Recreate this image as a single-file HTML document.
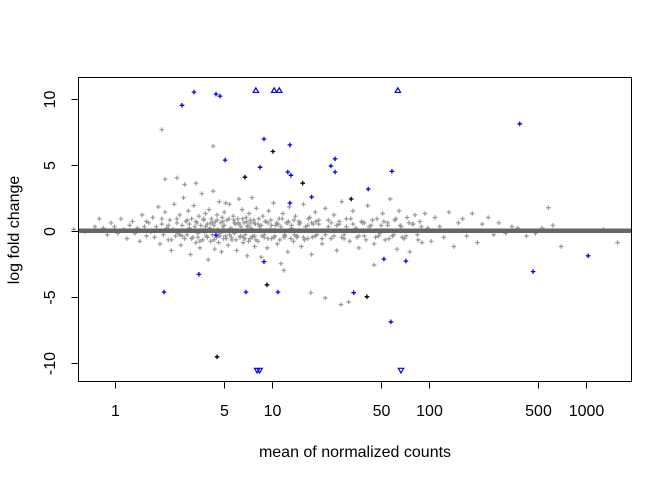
<!DOCTYPE html>
<html><head><meta charset="utf-8"><style>
html,body{margin:0;padding:0;background:#fff}
svg{display:block;font-family:"Liberation Sans",Arial,sans-serif}
</style></head><body>
<svg id="chart" width="672" height="480" viewBox="0 0 672 480">
<rect x="0" y="0" width="672" height="480" fill="#fff"/>
<g id="pts"></g>
<g id="axes"></g>
</svg>
<script>
// ---- data ----
const xTicks = [1,5,10,50,100,500,1000];
const xTickLabels = ["1","5","10","50","100","500","1000"];
const yTicks = [10,5,0,-5,-10];
const yTickLabels = ["10","5","0","-5","-10"];

const grayMean = [0.55,0.65,0.75,0.8,0.85,0.9,0.95,1.0,1.05,1.1,1.15,1.2,1.25,1.3,1.35,1.4,1.45,1.5,1.55,1.6,1.65,1.7,
1.75,1.8,1.85,1.9,1.95,2.0,2.05,2.1,2.15,2.2,2.25,2.3,2.35,2.4,2.45,2.5,2.55,2.6,2.65,2.7,2.75,2.8,2.85,2.9,2.95,3.0,3.05,3.1,3.15,3.2,3.25,3.3,3.35,3.4,3.45,3.5,3.55,3.6,3.65,3.7,3.75,3.8,3.85,3.9,3.95,4.0,4.05,4.1,4.15,4.2,4.25,4.3,4.35,4.4,4.45,4.5,4.55,4.6,4.65,4.7,4.75,4.8,4.85,4.9,4.95,
5.0,5.1,5.2,5.3,5.4,5.5,5.6,5.7,5.8,5.9,6.0,6.1,6.2,6.3,6.4,6.5,6.6,6.7,6.8,6.9,7.0,7.1,7.2,7.3,7.4,7.5,7.6,7.7,7.8,7.9,8.0,8.2,8.4,8.6,8.8,9.0,9.2,9.4,9.6,9.8,10,10.3,10.6,10.9,11.2,11.5,11.8,12.1,12.4,12.7,13,13.4,13.8,14.2,14.6,15,15.5,16,16.5,17,17.5,18,18.5,19,19.5,
20,21,22,23,24,25,26,27,28,29,30,31.5,33,34.5,36,37.5,39,41,43,45,47,49,51,53,55,57,59,61,63,65,67,70,73,76,79,82,85,88,91,95,99,
104,110,118,125,135,145,155,165,175,190,205,220,240,260,280,310,340,370,420,480,530,580,620,700,1300,1600,
2.2,2.6,3.0,3.4,3.8,4.2,4.6,5.0,5.4,5.8,6.2,6.6,7.0,7.4,7.8,8.2,8.6,9.0,9.5,10,10.5,11,11.5,12,12.7,13.4,14,15,16,17,18,19,20,22,24,26,28,30,33,36,39,42,46,50,55,60,66,72,80,90,
1.6,1.8,2.0,2.3,2.5,2.7,2.9,3.1,3.3,3.5,3.7,3.9,4.1,4.3,4.5,4.7,4.9,5.15,5.35,5.55,5.75,5.95,6.15,6.35,6.55,6.75,6.95,7.15,7.35,7.55,7.75,7.95,8.3,8.7,9.1,9.5,9.9,10.4,10.8,11.3,11.7,12.2,12.8,13.3,13.9,14.5,15.2,16.2,17.2,18.2,19.2,21,23,25,27,29,32,35,38,40,44,48,52,56,62,68,75,86,
2.0,4.25,2.1,2.5,2.8,3.3,27.7,22,17.8,31,5.1,45,12];
const grayLfc = [0.1,-0.1,0.3,0.9,0.2,-0.3,0.6,0.3,-0.2,0.9,0.1,-0.6,0.4,0.7,-0.2,0.2,-0.8,1.2,0.3,-0.4,0.6,-0.1,
1.0,-0.5,0.3,1.8,-1.0,0.5,-0.3,1.4,0.2,-0.7,0.8,-1.5,0.1,2.0,-0.4,0.9,-0.2,1.2,-1.1,0.4,2.5,-0.6,0.7,-0.3,1.5,0.2,-1.8,0.9,-0.5,1.9,0.3,-0.9,0.6,-0.2,1.1,-1.3,0.4,2.8,-0.7,0.8,-0.1,1.3,-0.4,0.5,-2.2,1.6,0.2,-0.8,0.9,-0.3,3.0,0.4,-1.4,0.7,-0.5,1.2,0.1,-0.9,2.2,-0.2,0.6,-1.6,1.0,0.3,-0.6,
1.4,-0.4,0.8,-1.1,2.0,0.2,-0.7,1.1,-0.2,0.5,-1.5,0.9,2.4,-0.5,0.3,1.6,-0.9,0.6,-0.3,1.0,-1.9,0.4,1.3,-0.6,0.2,2.5,-0.4,0.8,-1.2,0.5,1.7,-0.8,0.3,-2.0,1.1,-0.3,0.7,-1.3,1.5,0.1,-0.6,2.1,0.4,-1.0,0.9,-2.5,1.3,-0.3,0.6,-1.6,1.8,0.2,-0.8,1.1,-0.4,0.7,-1.2,2.0,0.3,-0.6,1.0,-1.8,0.5,1.4,-0.3,
0.8,-1.0,1.7,0.3,-0.6,1.2,-1.5,0.5,2.2,-0.3,0.9,-0.8,1.5,0.2,-1.3,0.7,-0.4,1.9,0.4,-1.0,0.9,-0.2,1.3,-0.7,0.4,2.4,-0.4,0.8,-1.4,1.5,0.3,-0.6,1.0,-1.6,0.5,1.2,-0.3,0.7,-0.9,1.3,0.2,
-0.8,1.0,0.3,-0.5,1.4,-1.2,0.6,0.9,-0.4,1.3,-0.9,0.5,1.0,-0.3,0.6,-0.2,0.3,0.2,-0.4,-0.2,0.2,1.75,0.4,-1.2,0.1,-0.9,
0.4,-0.3,0.5,-0.5,0.3,0.6,-0.4,0.4,-0.3,0.6,0.5,-0.5,0.3,0.6,-0.4,0.5,0.4,-0.5,0.6,0.4,-0.4,0.5,0.3,-0.5,0.6,0.4,-0.3,0.5,-0.5,0.4,0.6,-0.4,0.5,-0.3,0.6,0.4,-0.5,0.3,0.5,-0.4,0.6,0.3,-0.5,0.4,0.6,-0.3,0.4,-0.4,0.5,0.3,
0.7,-0.5,0.9,-0.7,0.6,-0.4,0.8,-0.6,0.7,-0.8,0.9,-0.5,0.6,-0.7,0.8,-0.4,0.7,-0.6,0.9,-0.5,0.8,-0.7,0.6,-0.4,0.9,-0.6,0.7,-0.8,0.8,-0.5,0.6,-0.7,0.9,-0.4,0.7,-0.6,0.8,-0.5,0.6,-0.7,0.9,-0.4,0.7,-0.6,0.8,-0.5,0.6,-0.7,0.9,-0.5,0.7,-0.6,0.8,-0.4,0.7,-0.6,0.9,-0.5,0.6,-0.7,0.8,-0.4,0.7,-0.6,0.9,-0.5,0.6,-0.7,
7.65,6.4,3.9,4.0,3.5,3.6,-5.6,-5.1,-4.7,-5.4,2.1,-2.6,-3.0];

const blueMean = [2.69,3.21,4.43,4.7,5.06,8.96,13.1,8.46,12.7,13.3,18.0,25.4,23.9,25.4,41.3,13.1,4.43,8.96,3.45,2.07,6.88,11.0,33.4,381,58.5,52.0,71.8,57.6,464,1040];
const blueLfc  = [9.5,10.5,10.35,10.2,5.35,6.95,6.5,4.8,4.45,4.2,2.55,5.45,4.9,4.45,3.15,2.1,-0.33,-2.35,-3.3,-4.65,-4.65,-4.65,-4.7,8.1,4.5,-2.15,-2.3,-6.9,-3.1,-1.9];
const blackMean = [10.2,6.77,15.8,32.2,9.36,40.5,4.5];
const blackLfc  = [6.0,4.05,3.6,2.4,-4.1,-5.0,-9.55];
const upMean = [7.95,10.4,11.2,63.8];
const downMean = [8.1,8.4,66.8];

// ---- scales ----
const L=78.5,R=631.5,T=77.5,B=381.5;
function sx(v){return 114.5+157*Math.log10(v);}
function sy(v){return 230.7-13.2*v;}
const yClipTop=10.65, yClipBot=-10.6;

const NS="http://www.w3.org/2000/svg";
const pts=document.getElementById('pts');
const axes=document.getElementById('axes');
function mk(tag,attrs,parent){const e=document.createElementNS(NS,tag);for(const k in attrs)e.setAttribute(k,attrs[k]);parent.appendChild(e);return e;}
function plusPath(xs,ys){let d='';for(let i=0;i<xs.length;i++){const x=sx(xs[i]),y=sy(ys[i]);d+=`M${(x-2.3).toFixed(1)} ${y.toFixed(1)}h4.6M${x.toFixed(1)} ${(y-2.3).toFixed(1)}v4.6`;}return d;}

const g1=mk('path',{d:plusPath(grayMean,grayLfc),stroke:'#999999','stroke-width':1.2,fill:'none'},pts);



const zl=mk('line',{x1:L,x2:R,y1:sy(0),y2:sy(0),stroke:'#666666','stroke-width':4.5},pts);



const g2=mk('path',{d:plusPath(blueMean,blueLfc),stroke:'#0000ff','stroke-width':1.3,fill:'none'},pts);


const g3=mk('path',{d:plusPath(blackMean,blackLfc),stroke:'#000000','stroke-width':1.3,fill:'none'},pts);



let du='';upMean.forEach(m=>{const x=sx(m),y=sy(yClipTop);du+=`M${x-2.7} ${y+2.3}L${x} ${y-2.3}L${x+2.7} ${y+2.3}Z`;});
const tu=mk('path',{d:du,stroke:'#0000ff','stroke-width':1.2,fill:'none'},pts);


let dd='';downMean.forEach(m=>{const x=sx(m),y=sy(yClipBot);dd+=`M${x-2.7} ${y-2.3}L${x} ${y+2.3}L${x+2.7} ${y-2.3}Z`;});
const td=mk('path',{d:dd,stroke:'#0000ff','stroke-width':1.2,fill:'none'},pts);



const box=mk('rect',{x:L,y:T,width:R-L,height:B-T,fill:'none',stroke:'#000','stroke-width':1},axes);



xTicks.forEach((v,i)=>{
  const x=Math.round(sx(v))+0.5;
  const t=mk('line',{x1:x,x2:x,y1:B,y2:B+7,stroke:'#000'},axes);
  
  
  const tx=mk('text',{x:x,y:416,'text-anchor':'middle','font-size':16,fill:'#000'},axes);
  tx.textContent=xTickLabels[i];
  
  
});
yTicks.forEach((v,i)=>{
  const y=Math.round(sy(v))+0.5;
  const t=mk('line',{x1:L-7,x2:L,y1:y,y2:y,stroke:'#000'},axes);
  
  
  const tx=mk('text',{x:0,y:0,'text-anchor':'middle','font-size':16,fill:'#000',transform:`translate(55,${y}) rotate(-90)`},axes);
  tx.textContent=yTickLabels[i];
  
  
});
const xt=mk('text',{x:355,y:457,'text-anchor':'middle','font-size':16,fill:'#000'},axes);
xt.textContent='mean of normalized counts';


const yt=mk('text',{x:0,y:0,'text-anchor':'middle','font-size':16,fill:'#000',transform:'translate(19,230) rotate(-90)'},axes);
yt.textContent='log fold change';


</script>
</body></html>
